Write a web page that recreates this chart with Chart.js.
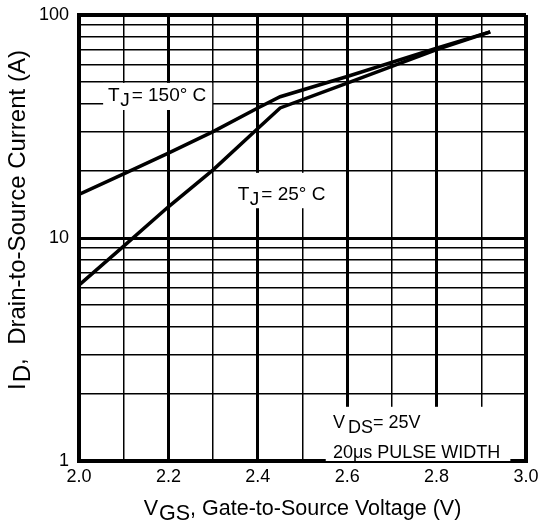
<!DOCTYPE html>
<html><head><meta charset="utf-8">
<script src="https://cdn.jsdelivr.net/npm/chart.js@4/dist/chart.umd.min.js"></script>
<style>html,body{margin:0;padding:0;background:#fff}#wrap{width:539px;height:527px;position:relative}</style>
</head><body><div id="wrap"><canvas id="c" width="539" height="527"></canvas></div>
<script>
// ---- data ----
const vgs25 = [2.0, 2.1, 2.2, 2.3, 2.4, 2.45, 2.6, 2.8, 2.92];
const id25  = [6.15, 9.2, 13.8, 20.2, 31.0, 38.3, 49.5, 70.0, 84.0];
const vgs150 = [2.0, 2.1, 2.2, 2.3, 2.4, 2.45, 2.6, 2.8, 2.92];
const id150  = [15.7, 19.4, 24.0, 30.0, 38.3, 43.0, 53.0, 71.0, 84.0];
const xTicks = [2.0, 2.1, 2.2, 2.3, 2.4, 2.5, 2.6, 2.7, 2.8, 2.9, 3.0];
const xTickLabels = ['2.0', '', '2.2', '', '2.4', '', '2.6', '', '2.8', '', '3.0'];
const yTicks = [1, 2, 3, 4, 5, 6, 7, 8, 9, 10, 20, 30, 40, 50, 60, 70, 80, 90, 100];
const yTickLabels = ['1', '', '', '', '', '', '', '', '', '10', '', '', '', '', '', '', '', '', '100'];
const label150 = ['T', 'J', '= 150° C'];
const label25 = ['T', 'J', '= 25° C'];
const condLine1 = ['V', 'DS', '= 25V'];
const condLine2 = '20μs PULSE WIDTH';
const xTitle = ['V', 'GS', ', Gate-to-Source Voltage (V)'];
const yTitle = ['I', 'D', ',  Drain-to-Source Current (A)'];

const FONT = '"Liberation Sans", Arial, sans-serif';
const toPts = (xs, ys) => xs.map((x, i) => ({x: x, y: ys[i]}));

function subWidth(ctx, parts, size, gapA, gapB) {
  ctx.font = size + 'px ' + FONT;
  return ctx.measureText(parts[0]).width + gapA + ctx.measureText(parts[1]).width + gapB + ctx.measureText(parts[2]).width;
}
function drawSub(ctx, parts, x, y, size, dy, gapA, gapB) {
  ctx.font = size + 'px ' + FONT;
  ctx.fillText(parts[0], x, y);
  x += ctx.measureText(parts[0]).width + gapA;
  ctx.fillText(parts[1], x, y + dy);
  x += ctx.measureText(parts[1]).width + gapB;
  ctx.fillText(parts[2], x, y);
}

const textPlugin = {
  id: 'texts',
  afterDraw(chart) {
    const ctx = chart.ctx;
    ctx.save();
    ctx.fillStyle = '#000';
    ctx.textBaseline = 'alphabetic';
    ctx.textAlign = 'left';
    const xs = chart.scales.x, ys = chart.scales.y;
    const box = (x0, y0, x1, y1) => {
      const a = xs.getPixelForValue(x0), b = xs.getPixelForValue(x1);
      const c = ys.getPixelForValue(y0), d = ys.getPixelForValue(y1);
      ctx.fillStyle = '#fff';
      ctx.fillRect(Math.min(a, b), Math.min(c, d), Math.abs(b - a), Math.abs(d - c));
      ctx.fillStyle = '#000';
    };
    box(2.054, 49.6, 2.298, 37.5);
    box(2.339, 19.6, 2.568, 13.6);
    box(2.552, 1.75, 2.965, 1.0);
    let p = [xs.getPixelForValue(2.065), ys.getPixelForValue(41.1)];
    drawSub(ctx, label150, p[0], p[1], 19, 5, 0.5, 2);
    p = [xs.getPixelForValue(2.355), ys.getPixelForValue(14.8)];
    drawSub(ctx, label25, p[0], p[1], 19, 5, 0.5, 2);
    p = [xs.getPixelForValue(2.568), ys.getPixelForValue(1.41)];
    drawSub(ctx, condLine1, p[0], p[1], 18, 5, 3, 0);
    ctx.font = '18px ' + FONT;
    p = [xs.getPixelForValue(2.568), ys.getPixelForValue(1.035)];
    ctx.fillText(condLine2, p[0], p[1]);

    // axis titles
    const ca = chart.chartArea;
    const cx = (ca.left + ca.right) / 2;
    let w = subWidth(ctx, xTitle, 21.5, 1, 0);
    drawSub(ctx, xTitle, cx - w / 2, 515, 21.5, 5, 1, 0);
    ctx.translate(25, 220);
    ctx.rotate(-Math.PI / 2);
    w = subWidth(ctx, yTitle, 24, 1, 0);
    drawSub(ctx, yTitle, -w / 2, 0, 24, 5, 1, 0);
    ctx.restore();
  }
};

new Chart(document.getElementById('c'), {
  type: 'line',
  data: {
    datasets: [
      {label: 'TJ = 150°C', data: toPts(vgs150, id150), borderColor: '#000', borderWidth: 3.5, pointRadius: 0, tension: 0, fill: false},
      {label: 'TJ = 25°C', data: toPts(vgs25, id25), borderColor: '#000', borderWidth: 3.5, pointRadius: 0, tension: 0, fill: false}
    ]
  },
  options: {
    responsive: false,
    animation: false,
    devicePixelRatio: 1,
    layout: {padding: {top: 15, right: 13, left: 0, bottom: 0}},
    plugins: {legend: {display: false}, tooltip: {enabled: false}},
    scales: {
      x: {
        type: 'linear', min: 2.0, max: 3.0,
        afterBuildTicks: s => { s.ticks = xTicks.map(v => ({value: v})); },
        afterFit: s => { s.height = 66; s.paddingLeft = 0; s.paddingRight = 0; },
        ticks: {
          autoSkip: false, maxRotation: 0, padding: 5, color: '#000',
          font: {family: FONT, size: 18},
          callback: (v, i) => xTickLabels[i]
        },
        grid: {
          drawTicks: false, color: '#000',
          lineWidth: c => { const v = Math.round(c.tick.value * 10); return (v === 20 || v === 30) ? 4 : (v % 2 === 0 ? 3 : 1.5); }
        },
        border: {display: true, color: '#000', width: 4}
      },
      y: {
        type: 'logarithmic', min: 1, max: 100,
        afterBuildTicks: s => { s.ticks = yTicks.map(v => ({value: v})); },
        afterFit: s => { s.width = 79; s.paddingTop = 0; s.paddingBottom = 0; },
        ticks: {
          autoSkip: false, padding: 10, color: '#000',
          font: {family: FONT, size: 18},
          callback: (v, i) => yTickLabels[i]
        },
        grid: {
          drawTicks: false, color: '#000',
          lineWidth: c => { const v = c.tick.value; return (v === 1 || v === 100) ? 4 : (v === 10 ? 3 : 1.5); }
        },
        border: {display: true, color: '#000', width: 4}
      }
    }
  },
  plugins: [textPlugin]
});
</script>
</body></html>
